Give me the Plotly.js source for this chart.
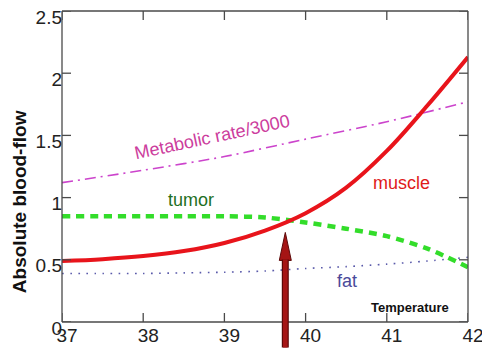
<!DOCTYPE html>
<html>
<head>
<meta charset="utf-8">
<script src="https://cdn.plot.ly/plotly-3.0.1.min.js"></script>
<style>
html,body{margin:0;padding:0;background:#fff;}
#chart{width:482px;height:349px;}
</style>
</head>
<body>
<div id="chart"></div>
<script>
// Temperature (°C) sample points
var temperature = [37, 37.5, 38, 38.5, 39, 39.5, 40, 40.5, 41, 41.5, 42];
// Absolute blood-flow series
var muscle    = [0.49, 0.505, 0.53, 0.57, 0.635, 0.735, 0.875, 1.08, 1.375, 1.74, 2.13];
var tumor     = [0.85, 0.85, 0.85, 0.85, 0.85, 0.84, 0.80, 0.75, 0.69, 0.59, 0.44];
var fat       = [0.39, 0.39, 0.39, 0.395, 0.40, 0.41, 0.43, 0.445, 0.465, 0.49, 0.52];
var metabolicTemps = [37, 38, 39, 40, 41, 42];
var metabolic = [1.12, 1.22, 1.33, 1.47, 1.61, 1.77];
// tick labels
var xTicks = [37, 38, 39, 40, 41, 42];
var yTicks = [0, 0.5, 1, 1.5, 2, 2.5];
var yTickText = ['0', '0.5', '1', '1.5', '2', '2.5'];
// arrow marking the muscle/tumor crossover
var arrowTemp = 39.75;
var arrowTipFlow = 0.72;

var tickFont = {family: 'Liberation Sans, Arial, sans-serif', size: 19, color: '#222'};
var labelFont = 'Liberation Sans, Arial, sans-serif';
var frameColor = '#4a4a4a';
var TICKLEN = 9;

var traces = [
  {x: metabolicTemps, y: metabolic, mode: 'lines', name: 'Metabolic rate/3000',
   line: {color: '#cc44cc', width: 1.6, dash: '11px,5px,2px,5px', shape: 'spline', smoothing: 0.8}},
  {x: temperature, y: fat, mode: 'lines', name: 'fat',
   line: {color: '#5a5aaa', width: 1.6, dash: '1.6px,6.5px', shape: 'spline', smoothing: 0.8}},
  {x: temperature, y: tumor, mode: 'lines', name: 'tumor',
   line: {color: '#33dd2a', width: 4.5, dash: '8px,6px', shape: 'spline', smoothing: 0.8}},
  {x: temperature, y: muscle, mode: 'lines', name: 'muscle',
   line: {color: '#e8141b', width: 4, shape: 'spline', smoothing: 1}}
];

function axis(extra) {
  var a = {showgrid: false, zeroline: false, showline: false, ticks: '',
    tickfont: tickFont, ticklabeloverflow: 'allow'};
  for (var k in extra) a[k] = extra[k];
  return a;
}

// frame box and inside ticks (drawn as line shapes, mirrored on all four sides)
var frameLine = {color: frameColor, width: 1.3};
var shapes = [
  {type: 'line', xref: 'paper', yref: 'paper', x0: 0, x1: 1, y0: 0, y1: 0, line: frameLine},
  {type: 'line', xref: 'paper', yref: 'paper', x0: 0, x1: 1, y0: 1, y1: 1, line: frameLine},
  {type: 'line', xref: 'paper', yref: 'paper', x0: 0, x1: 0, y0: 0, y1: 1, line: frameLine},
  {type: 'line', xref: 'paper', yref: 'paper', x0: 1, x1: 1, y0: 0, y1: 1, line: frameLine}
];
xTicks.forEach(function(v) {
  shapes.push({type: 'line', xref: 'x', yref: 'paper', ysizemode: 'pixel', yanchor: 0,
    x0: v, x1: v, y0: 0, y1: TICKLEN, line: frameLine});
  shapes.push({type: 'line', xref: 'x', yref: 'paper', ysizemode: 'pixel', yanchor: 1,
    x0: v, x1: v, y0: 0, y1: -TICKLEN, line: frameLine});
});
yTicks.forEach(function(v) {
  shapes.push({type: 'line', xref: 'paper', yref: 'y', xsizemode: 'pixel', xanchor: 0,
    x0: 0, x1: TICKLEN, y0: v, y1: v, line: frameLine});
  shapes.push({type: 'line', xref: 'paper', yref: 'y', xsizemode: 'pixel', xanchor: 1,
    x0: 0, x1: -TICKLEN, y0: v, y1: v, line: frameLine});
});
// arrow head
shapes.push({type: 'path', xref: 'x', yref: 'y', xsizemode: 'pixel', ysizemode: 'pixel',
  xanchor: arrowTemp, yanchor: arrowTipFlow,
  path: 'M0,0L6,-28L-6,-28Z', fillcolor: '#a51515', line: {color: '#5c0808', width: 1}});

var layout = {
  width: 482, height: 349,
  margin: {l: 62, r: 14, t: 11, b: 27},
  paper_bgcolor: '#fff', plot_bgcolor: '#fff',
  showlegend: false,
  xaxis: axis({range: [37, 42], tickmode: 'array', tickvals: xTicks, ticktext: xTicks.map(String), ticklabelshift: 5}),
  yaxis: axis({range: [0, 2.5], tickmode: 'array', tickvals: yTicks, ticktext: yTickText, ticklabelshift: 6, ticklabelstandoff: -1}),
  shapes: shapes,
  annotations: [
    {x: arrowTemp, y: arrowTipFlow, xref: 'x', yref: 'y', text: '', showarrow: true,
     ax: 0, ay: 140, arrowhead: 0, arrowwidth: 7, arrowcolor: '#5c0808', standoff: 27},
    {x: arrowTemp, y: arrowTipFlow, xref: 'x', yref: 'y', text: '', showarrow: true,
     ax: 0, ay: 140, arrowhead: 0, arrowwidth: 4.6, arrowcolor: '#a51515', standoff: 27},
    {x: 38.85, y: 1.49, xref: 'x', yref: 'y', text: 'Metabolic rate/3000', showarrow: false, textangle: -12,
     font: {family: labelFont, size: 18, color: '#cc3d9d'}},
    {x: 38.59, y: 0.98, xref: 'x', yref: 'y', text: 'tumor', showarrow: false,
     font: {family: labelFont, size: 18, color: '#1f6f1f'}},
    {x: 41.18, y: 1.12, xref: 'x', yref: 'y', text: 'muscle', showarrow: false,
     font: {family: labelFont, size: 18, color: '#e01a1a'}},
    {x: 40.51, y: 0.33, xref: 'x', yref: 'y', text: 'fat', showarrow: false,
     font: {family: labelFont, size: 18, color: '#4a4a9a'}},
    {x: 41.29, y: 0.12, xref: 'x', yref: 'y', text: '<b>Temperature</b>', showarrow: false,
     font: {family: labelFont, size: 13, color: '#111'}},
    {x: -0.103, y: 0.386, xref: 'paper', yref: 'paper', xanchor: 'center', yanchor: 'middle',
     text: '<b>Absolute blood-flow</b>', showarrow: false,
     textangle: -90, font: {family: labelFont, size: 19, color: '#111'}}
  ]
};

Plotly.newPlot('chart', traces, layout, {displayModeBar: false, staticPlot: true});
</script>
</body>
</html>
